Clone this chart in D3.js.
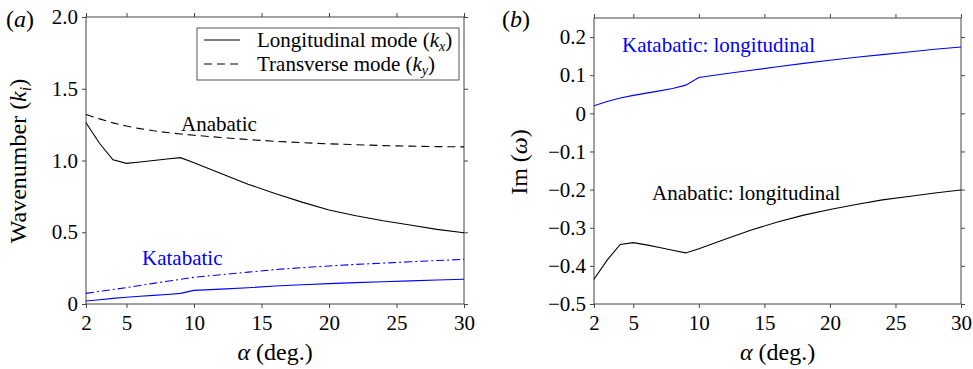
<!DOCTYPE html>
<html>
<head>
<meta charset="utf-8">
<script src="https://cdn.jsdelivr.net/npm/d3@7"></script>
<style>
  body { margin: 0; background: #fff; }
  text { font-family: "Liberation Serif", "DejaVu Serif", serif; }
</style>
</head>
<body>
<div id="chart"></div>
<script>
const width = 973,
      height = 369;

// angle of slope (deg.)
const alpha = [2, 3, 4, 5, 6, 7, 8, 9, 10, 12, 14, 16, 18, 20, 22, 24, 26, 28, 30];

// (a) wavenumbers
const anabaticKx = [1.263, 1.12, 1.005, 0.98, 0.99, 1.0, 1.01, 1.02, 0.985, 0.91, 0.835, 0.77, 0.71, 0.655, 0.615, 0.58, 0.55, 0.52, 0.497];
const anabaticKy = [1.32, 1.29, 1.262, 1.24, 1.222, 1.207, 1.195, 1.185, 1.176, 1.16, 1.146, 1.134, 1.124, 1.116, 1.11, 1.104, 1.1, 1.097, 1.095];
const katabaticKx = [0.021, 0.03, 0.039, 0.047, 0.054, 0.06, 0.066, 0.074, 0.095, 0.104, 0.113, 0.125, 0.134, 0.142, 0.149, 0.155, 0.161, 0.167, 0.172];
const katabaticKy = [0.074, 0.088, 0.101, 0.114, 0.129, 0.144, 0.158, 0.172, 0.186, 0.204, 0.222, 0.24, 0.253, 0.265, 0.276, 0.285, 0.294, 0.303, 0.311];

// (b) growth rates
const anabaticIm = [-0.435, -0.385, -0.344, -0.339, -0.345, -0.352, -0.359, -0.366, -0.355, -0.33, -0.306, -0.285, -0.267, -0.252, -0.239, -0.227, -0.218, -0.209, -0.201];
const katabaticIm = [0.020, 0.031, 0.040, 0.047, 0.053, 0.059, 0.065, 0.074, 0.094, 0.104, 0.113, 0.122, 0.131, 0.139, 0.147, 0.154, 0.161, 0.168, 0.174];

const xTicks = [2, 5, 10, 15, 20, 25, 30];
const yTicksA = [0, 0.5, 1.0, 1.5, 2.0];
const yTicksB = [-0.5, -0.4, -0.3, -0.2, -0.1, 0, 0.1, 0.2];

const blue = "#0000ff",
      frameColor = "#444";

const svg = d3.select("#chart")
  .append("svg")
    .attr("width", width)
    .attr("height", height);

const fmtY = d => d === 0 ? "0" : d3.format(".1f")(d).replace("-", "\u2212");
const fmtX = d3.format("d");

function panel(opts) {
  const x = d3.scaleLinear().domain([2, 30]).range(opts.xRange);
  const y = d3.scaleLinear().domain(opts.yDomain).range(opts.yRange);
  const g = svg.append("g");

  const axes = [
    [d3.axisBottom(x).tickValues(xTicks).tickFormat(fmtX), `translate(0,${opts.yRange[0]})`, "bottom"],
    [d3.axisTop(x).tickValues(xTicks), `translate(0,${opts.yRange[1]})`, null],
    [d3.axisLeft(y).tickValues(opts.yTicks).tickFormat(fmtY), `translate(${opts.xRange[0]},0)`, "left"],
    [d3.axisRight(y).tickValues(opts.yTicks), `translate(${opts.xRange[1]},0)`, null]
  ];
  axes.forEach(([ax, tr, side]) => {
    const a = g.append("g")
        .attr("transform", tr)
        .call(ax.tickSize(4).tickSizeOuter(0).tickPadding(4));
    a.select(".domain").remove();
    a.selectAll("line").attr("stroke", frameColor);
    a.selectAll("text")
        .attr("font-family", "Liberation Serif")
        .attr("font-size", 21)
        .attr("fill", "#000");
    if (!side) a.selectAll("text").remove();
    if (side === "bottom") a.selectAll("text").attr("dy", "0.85em");
  });

  g.append("rect")
      .attr("x", opts.xRange[0])
      .attr("y", opts.yRange[1])
      .attr("width", opts.xRange[1] - opts.xRange[0])
      .attr("height", opts.yRange[0] - opts.yRange[1])
      .attr("fill", "none")
      .attr("stroke", frameColor)
      .attr("stroke-width", 1);

  const line = d3.line()
      .x((d, i) => x(alpha[i]))
      .y(d => y(d));

  opts.series.forEach(s => {
    g.append("path")
        .datum(s.values)
        .attr("fill", "none")
        .attr("stroke", s.color)
        .attr("stroke-width", 1.1)
        .attr("stroke-dasharray", s.dash || null)
        .attr("d", line);
  });

  // x axis title
  g.append("text")
      .attr("x", (opts.xRange[0] + opts.xRange[1]) / 2)
      .attr("y", 360)
      .attr("text-anchor", "middle")
      .attr("font-size", 24)
      .html('<tspan font-style="italic">α</tspan> (deg.)');

  // panel letter
  g.append("text")
      .attr("x", opts.letterX)
      .attr("y", 27)
      .attr("font-size", 24)
      .html(`(<tspan font-style="italic">${opts.letter}</tspan>)`);

  return {x, y, g};
}

const a = panel({
  xRange: [86, 464],
  yRange: [304, 17],
  yDomain: [0, 2],
  yTicks: yTicksA,
  letter: "a",
  letterX: 6,
  series: [
    {values: anabaticKx, color: "#000"},
    {values: anabaticKy, color: "#000", dash: "8,5"},
    {values: katabaticKx, color: blue},
    {values: katabaticKy, color: blue, dash: "8,3,2,3"}
  ]
});

a.g.append("text")
    .attr("transform", "translate(26,161) rotate(-90)")
    .attr("text-anchor", "middle")
    .attr("font-size", 24)
    .html('Wavenumber (<tspan font-style="italic">k</tspan><tspan font-style="italic" font-size="16" dy="5">i</tspan><tspan dy="-5">)</tspan>');

a.g.append("text")
    .attr("x", 181).attr("y", 131)
    .attr("font-size", 21)
    .text("Anabatic");

a.g.append("text")
    .attr("x", 142).attr("y", 265)
    .attr("font-size", 21)
    .attr("fill", blue)
    .text("Katabatic");

// legend
const legend = a.g.append("g");
legend.append("rect")
    .attr("x", 197).attr("y", 28)
    .attr("width", 262).attr("height", 52)
    .attr("fill", "#fff")
    .attr("stroke", "#555");
const legendItems = [
  {label: "Longitudinal mode (", sub: "x", dash: null},
  {label: "Transverse mode (", sub: "y", dash: "8,5"}
];
legendItems.forEach((d, i) => {
  const yy = 40 + i * 24;
  legend.append("line")
      .attr("x1", 204).attr("x2", 240)
      .attr("y1", yy).attr("y2", yy)
      .attr("stroke", "#000")
      .attr("stroke-width", 1.1)
      .attr("stroke-dasharray", d.dash);
  legend.append("text")
      .attr("x", 257).attr("y", yy + 7)
      .attr("font-size", 21)
      .html(`${d.label}<tspan font-style="italic">k</tspan><tspan font-style="italic" font-size="14" dy="4">${d.sub}</tspan><tspan dy="-4">)</tspan>`);
});

const b = panel({
  xRange: [594, 961],
  yRange: [304, 18],
  yDomain: [-0.5, 0.25],
  yTicks: yTicksB,
  letter: "b",
  letterX: 502,
  series: [
    {values: anabaticIm, color: "#000"},
    {values: katabaticIm, color: blue}
  ]
});

b.g.append("text")
    .attr("transform", "translate(527,162) rotate(-90)")
    .attr("text-anchor", "middle")
    .attr("font-size", 24)
    .html('Im (<tspan font-style="italic">ω</tspan>)');

b.g.append("text")
    .attr("x", 622).attr("y", 52)
    .attr("font-size", 21)
    .attr("fill", blue)
    .text("Katabatic: longitudinal");

b.g.append("text")
    .attr("x", 652).attr("y", 200)
    .attr("font-size", 21)
    .text("Anabatic: longitudinal");
</script>
</body>
</html>
